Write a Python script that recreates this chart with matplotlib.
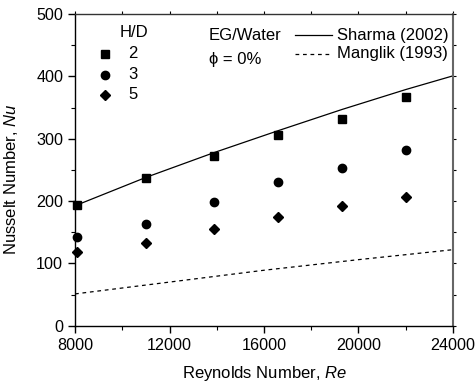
import matplotlib
matplotlib.use("Agg")
import matplotlib.pyplot as plt
from matplotlib.ticker import MultipleLocator

plt.rcParams['font.family'] = ['Liberation Sans', 'DejaVu Sans']
plt.rcParams['mathtext.fontset'] = 'custom'
plt.rcParams['mathtext.it'] = 'Liberation Sans:italic'
plt.rcParams['mathtext.rm'] = 'Liberation Sans'

re_exp = [8100, 11000, 13900, 16600, 19300, 22000]
nu_hd2 = [194, 237, 272, 306, 331, 367]
nu_hd3 = [142, 163, 198, 230, 253, 282]
nu_hd5 = [119, 133, 155, 175, 192, 206]

re_sharma = [8100, 11000, 13900, 16600, 19300, 22000, 24000]
nu_sharma = [194, 238, 278, 313, 347, 379, 401]

re_manglik = [8000, 12000, 16000, 20000, 24000]
nu_manglik = [51, 70, 89, 106, 122]

hd_labels = ['2', '3', '5']
hd_markers = ['s', 'o', 'D']
hd_sizes = [5.3, 6.0, 5.6]
ref_labels = ['Sharma (2002)', 'Manglik (1993)']

fig = plt.figure(figsize=(4.76, 3.87), dpi=100)
ax = fig.add_axes([0.1576, 0.1584, 0.794, 0.805])

ax.plot(re_sharma, nu_sharma, color='black', lw=0.9)
ax.plot(re_manglik, nu_manglik, color='black', lw=0.9, ls=(0, (3, 3)))
for nu, m, s in zip([nu_hd2, nu_hd3, nu_hd5], hd_markers, hd_sizes):
    ax.plot(re_exp, nu, m, color='black', ms=s, ls='none', clip_on=False, zorder=5)

ax.set_xlim(8000, 24000)
ax.set_ylim(0, 500)
ax.xaxis.set_major_locator(MultipleLocator(4000))
ax.xaxis.set_minor_locator(MultipleLocator(2000))
ax.yaxis.set_major_locator(MultipleLocator(100))
ax.yaxis.set_minor_locator(MultipleLocator(50))
ax.tick_params(which='major', direction='out', length=5, width=1, labelsize=11.6)
ax.tick_params(which='minor', direction='out', length=3, width=0.8)
ax.tick_params(which='both', top=True, right=True, labeltop=False, labelright=False)
ax.xaxis.set_tick_params(which='both', top=True)
for tick in ax.xaxis.get_major_ticks() + ax.xaxis.get_minor_ticks():
    tick.tick2line.set_markersize(2.5)
    tick.tick2line.set_markeredgewidth(0.8)
    tick.tick2line.set_color('#555555')
for tick in ax.yaxis.get_major_ticks() + ax.yaxis.get_minor_ticks():
    tick.tick2line.set_markersize(2.5)
    tick.tick2line.set_markeredgewidth(0.8)
    tick.tick2line.set_color('#555555')
for s in ax.spines.values():
    s.set_linewidth(1.0)
ax.spines['right'].set_color('#666666')
ax.spines['right'].set_linewidth(1.5)
ax.spines['top'].set_color('#333333')

ax.set_xlabel('Reynolds Number, $\\mathit{Re}$', fontsize=12, labelpad=8)
ax.set_ylabel('Nusselt Number, $\\mathit{Nu}$', fontsize=12)
ax.yaxis.set_label_coords(-0.1455, 0.471)

# H/D legend
T = ax.transAxes
ax.text(0.156, 0.940, 'H/D', transform=T, fontsize=12, ha='center', va='center')
for lab, m, s, y in zip(hd_labels, hd_markers, hd_sizes, [0.873, 0.805, 0.741]):
    ax.plot([0.079], [y], m, color='black', ms=s, transform=T, clip_on=False)
    ax.text(0.153, y, lab, transform=T, fontsize=12, ha='center', va='center')

ax.text(0.354, 0.933, 'EG/Water', transform=T, fontsize=12, va='center')
ax.text(0.354, 0.855, '\u03d5 = 0%', transform=T, fontsize=12, va='center')

ax.plot([0.582, 0.68], [0.933, 0.933], color='black', lw=0.9, transform=T)
ax.plot([0.582, 0.68], [0.873, 0.873], color='black', lw=0.9, ls=(0, (3, 3)), transform=T)
ax.text(0.693, 0.933, ref_labels[0], transform=T, fontsize=12, va='center')
ax.text(0.693, 0.873, ref_labels[1], transform=T, fontsize=12, va='center')

fig.savefig('out.png', dpi=100)
